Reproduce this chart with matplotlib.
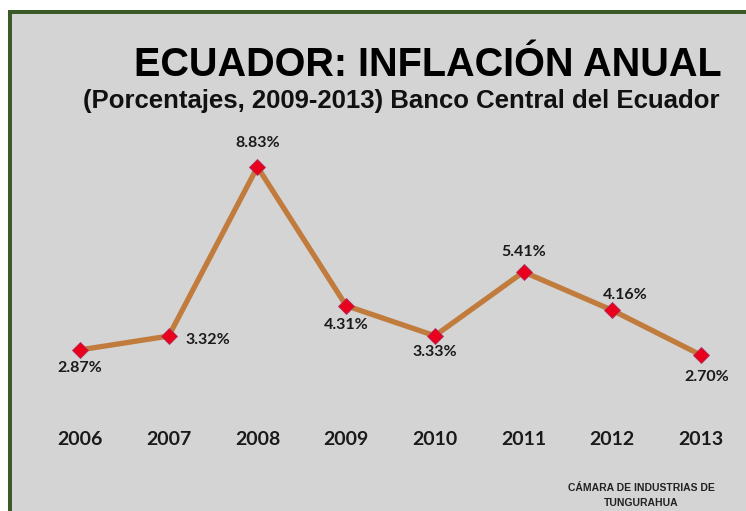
import matplotlib.pyplot as plt
from matplotlib.patches import Rectangle

years = [2006, 2007, 2008, 2009, 2010, 2011, 2012, 2013]
inflation = [2.87, 3.32, 8.83, 4.31, 3.33, 5.41, 4.16, 2.70]
labels = ["2.87%", "3.32%", "8.83%", "4.31%", "3.33%", "5.41%", "4.16%", "2.70%"]
# label offsets in points (dx, dy) relative to each marker
offsets = [(0, -13), (12, -3), (0, 17), (0, -14), (0, -12), (0, 14), (9, 11), (4, -16)]
aligns = ["center", "left", "center", "center", "center", "center", "center", "center"]

BG = "#d3d4d3"
GREEN = "#3c5a27"
LINE = "#c17b3c"

fig = plt.figure(figsize=(7.46, 5.11), dpi=100)
fig.patch.set_facecolor("white")

# grey panel with green frame on top and left
fig.patches.append(Rectangle((8 / 746, 0), 1, 1 - 10 / 511, transform=fig.transFigure,
                             facecolor=BG, edgecolor="none", zorder=-3))
fig.patches.append(Rectangle((8 / 746, 1 - 14 / 511), 1, 4 / 511, transform=fig.transFigure,
                             facecolor=GREEN, edgecolor="none", zorder=-2))
fig.patches.append(Rectangle((8 / 746, 0), 4 / 746, 1 - 10 / 511, transform=fig.transFigure,
                             facecolor=GREEN, edgecolor="none", zorder=-2))

ax = fig.add_axes([40 / 746, 1 - 425 / 511, 701 / 746, 285 / 511])
ax.set_facecolor("none")
ax.plot(years, inflation, color=LINE, lw=3.8, zorder=2)
ax.plot(years, inflation, ls="none", marker="D", ms=8, color="#e8001c",
        markeredgecolor="#b03060", markeredgewidth=0.6, zorder=3)

for x, y, lab, (dx, dy), ha in zip(years, inflation, labels, offsets, aligns):
    ax.annotate(lab, (x, y), xytext=(dx, dy), textcoords="offset points",
                ha=ha, va="center", fontsize=11.5, fontweight="bold",
                family="Lato", color="#1a1a1a")

ax.set_xlim(2006 - 40 / 88.7, 2013 + 40 / 88.7)
ax.set_ylim((438 - 425) / 30.7, (438 - 140) / 30.7)
ax.set_xticks(years)
ax.set_xticklabels([str(y) for y in years], fontsize=14, fontweight="bold",
                   family="Lato", color="#1a1a1a")
ax.tick_params(axis="x", length=0, pad=4)
ax.set_yticks([])
for s in ax.spines.values():
    s.set_visible(False)

fig.text(428 / 746, 1 - 65 / 511, "ECUADOR: INFLACIÓN ANUAL", ha="center", va="center",
         fontsize=28.5, fontweight="bold", family="Liberation Sans", color="black")
fig.text(401 / 746, 1 - 101 / 511, "(Porcentajes, 2009-2013) Banco Central del Ecuador",
         ha="center", va="center", fontsize=18.5, fontweight="bold",
         family="Liberation Sans", color="#111111")
fig.text(641 / 746, 1 - 488 / 511, "CÁMARA DE INDUSTRIAS DE", ha="center", va="center",
         fontsize=7.5, fontweight="bold", family="Liberation Sans", color="#222222")
fig.text(641 / 746, 1 - 503 / 511, "TUNGURAHUA", ha="center", va="center",
         fontsize=7.5, fontweight="bold", family="Liberation Sans", color="#222222")

fig.savefig("out.png", dpi=100, facecolor=fig.get_facecolor())
